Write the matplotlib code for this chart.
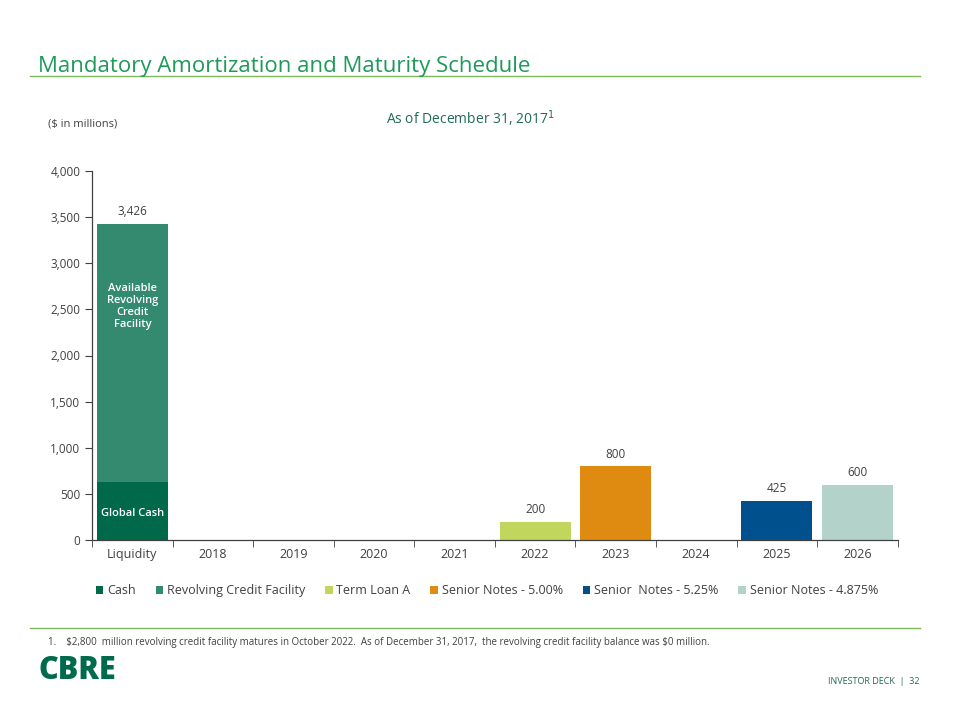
import matplotlib.pyplot as plt
import numpy as np

plt.rcParams['font.family'] = ['Open Sans', 'DejaVu Sans']

categories = ['Liquidity', '2018', '2019', '2020', '2021', '2022', '2023', '2024', '2025', '2026']
series_names = ['Cash', 'Revolving Credit Facility', 'Term Loan A', 'Senior Notes - 5.00%',
                'Senior  Notes - 5.25%', 'Senior Notes - 4.875%']
cash = [626, 0, 0, 0, 0, 0, 0, 0, 0, 0]
revolver = [2800, 0, 0, 0, 0, 0, 0, 0, 0, 0]
term_loan = [0, 0, 0, 0, 0, 200, 0, 0, 0, 0]
notes_500 = [0, 0, 0, 0, 0, 0, 800, 0, 0, 0]
notes_525 = [0, 0, 0, 0, 0, 0, 0, 0, 425, 0]
notes_4875 = [0, 0, 0, 0, 0, 0, 0, 0, 0, 600]
colors = ['#00694A', '#348A6E', '#C1D65C', '#DF8B12', '#00508E', '#B3D2C9']

fig = plt.figure(figsize=(9.6, 7.2), dpi=100)
ax = fig.add_axes([0.096, 0.25, 0.839, 0.5125])

x = np.arange(len(categories))
w = 0.88
bottom = np.zeros(len(categories))
for name, vals, c in zip(series_names, [cash, revolver, term_loan, notes_500, notes_525, notes_4875], colors):
    v = np.array(vals, dtype=float)
    ax.bar(x, v, w, bottom=bottom, color=c, label=name, zorder=2)
    bottom = bottom + v

for xi, tot in zip(x, bottom):
    if tot > 0:
        ax.text(xi, tot + 60, f'{int(tot):,}', ha='center', va='bottom', fontsize=8.5, color='#404040')

ax.text(0, cash[0] / 2 - 30, 'Global Cash', ha='center', va='center', color='white',
        fontsize=8, fontweight='semibold')
ax.text(0, 2530, 'Available\nRevolving\nCredit\nFacility', ha='center', va='center', color='white',
        fontsize=8, fontweight='semibold', linespacing=1.1)

ax.set_xlim(-0.5, len(categories) - 0.5)
ax.set_ylim(0, 4000)
ax.set_yticks(np.arange(0, 4001, 500))
ax.set_yticklabels([f'{v:,}' for v in range(0, 4001, 500)], fontsize=8.5, color='#404040')
ax.set_xticks(x)
ax.set_xticklabels(categories, fontsize=9, color='#404040')
ax.tick_params(axis='x', length=0, pad=6)
ax.set_xticks(np.arange(-0.5, len(categories)), minor=True)
ax.tick_params(axis='x', which='minor', length=5, color='#404040', direction='out')
ax.tick_params(axis='y', length=5, color='#404040', direction='out')
for s in ['top', 'right']:
    ax.spines[s].set_visible(False)
for s in ['left', 'bottom']:
    ax.spines[s].set_color('#404040')
    ax.spines[s].set_linewidth(0.9)

leg = ax.legend(loc='upper center', bbox_to_anchor=(0.49, -0.09), ncol=6, frameon=False,
                fontsize=9, handlelength=0.6, handleheight=0.6, handletextpad=0.3,
                columnspacing=1.6)
for t in leg.get_texts():
    t.set_color('#404040')

# page decoration
fig.text(0.040, 0.908, 'Mandatory Amortization and Maturity Schedule', fontsize=16,
         color='#1E9A5B', ha='left', va='center')
fig.add_artist(plt.Line2D([0.031, 0.958], [0.894, 0.894], color='#7DB956', lw=1))
fig.text(0.050, 0.828, '($ in millions)', fontsize=8, color='#404040', ha='left', va='center')
fig.text(0.49, 0.835, 'As of December 31, 2017$^{1}$', fontsize=10, color='#1F6B56',
         ha='center', va='center')
fig.add_artist(plt.Line2D([0.031, 0.958], [0.128, 0.128], color='#7DB956', lw=1))
fig.text(0.050, 0.108, '1.    \\$2,800  million revolving credit facility matures in October 2022.  As of December 31, 2017,  the revolving credit facility balance was \\$0 million.',
         fontsize=7, color='#404040', ha='left', va='center')
fig.text(0.040, 0.068, 'CBRE', fontsize=22, fontweight='heavy', color='#006A4D', ha='left', va='center')
fig.text(0.958, 0.054, 'INVESTOR DECK  |  32', fontsize=6.5, color='#1F6B56', ha='right', va='center')

fig.savefig('out.png', dpi=100)
